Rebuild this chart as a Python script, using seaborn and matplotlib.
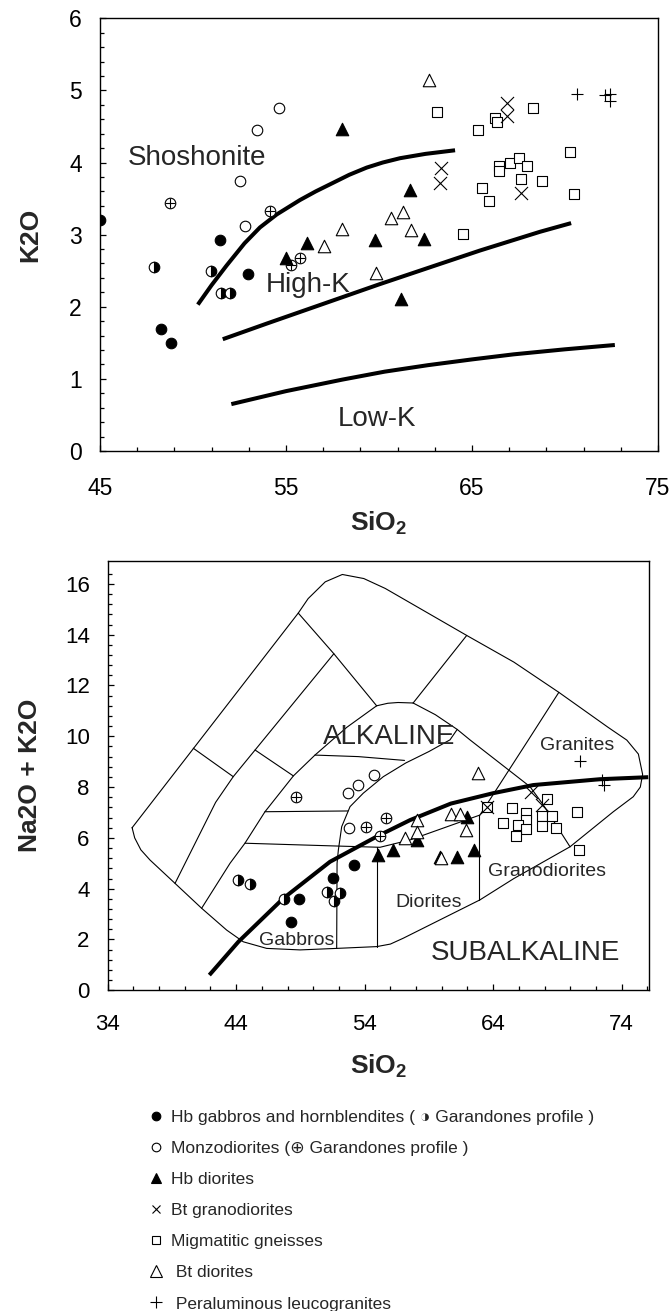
import numpy as np
import matplotlib
matplotlib.use("Agg")
import matplotlib.pyplot as plt
import seaborn as sns
from matplotlib.lines import Line2D
from matplotlib.ticker import FixedLocator, MultipleLocator

# ======================= DATA : K2O vs SiO2 (top) =======================
k_hbgab_si = [51.44, 52.98, 48.29, 48.82]
k_hbgab_k = [2.93, 2.455, 1.69, 1.50]
k_gargab_si = [45.0, 47.92, 50.95, 51.48, 52.01]
k_gargab_k = [3.21, 2.55, 2.49, 2.19, 2.19]
k_monzo_si = [54.63, 53.44, 52.54, 52.77]
k_monzo_k = [4.76, 4.45, 3.75, 3.12]
k_garmonzo_si = [48.79, 54.13, 55.25, 55.76]
k_garmonzo_k = [3.44, 3.33, 2.58, 2.68]
k_hbdio_si = [58.01, 56.13, 55.0, 59.78, 61.64, 62.40, 61.2]
k_hbdio_k = [4.46, 2.89, 2.68, 2.92, 3.62, 2.94, 2.11]
k_btgrano_si = [66.87, 66.90, 63.36, 63.30, 67.63]
k_btgrano_k = [4.82, 4.64, 3.92, 3.71, 3.58]
k_migm_si = [63.12, 65.34, 66.22, 66.34, 68.30, 66.44, 66.44, 67.07, 67.53,
             67.98, 67.66, 68.75, 65.55, 65.90, 70.25, 70.47, 64.50]
k_migm_k = [4.70, 4.45, 4.62, 4.56, 4.76, 3.95, 3.88, 4.00, 4.06,
            3.95, 3.77, 3.75, 3.65, 3.46, 4.14, 3.56, 3.01]
k_btdio_si = [62.71, 57.02, 57.99, 60.63, 61.30, 61.74, 59.85]
k_btdio_k = [5.14, 2.84, 3.08, 3.23, 3.32, 3.07, 2.47]
k_leuco_si = [70.63, 72.13, 72.40, 72.40]
k_leuco_k = [4.95, 4.93, 4.95, 4.85]

# series boundaries
sho_si = [50.26, 51.0, 51.8, 52.77, 53.6, 54.5, 55.75, 56.6, 57.54, 58.4,
          59.34, 60.2, 61.13, 62.5, 64.09]
sho_k = [2.03, 2.30, 2.57, 2.88, 3.10, 3.28, 3.48, 3.60, 3.72, 3.83,
         3.93, 4.00, 4.06, 4.12, 4.17]
hk_si = [51.6, 54.0, 57.0, 60.0, 63.0, 65.43, 68.66, 70.33]
hk_k = [1.55, 1.77, 2.04, 2.31, 2.57, 2.78, 3.04, 3.16]
lk_si = [52.06, 55.0, 58.03, 60.3, 62.63, 65.0, 67.23, 70.0, 72.68]
lk_k = [0.65, 0.83, 0.99, 1.10, 1.19, 1.27, 1.34, 1.41, 1.47]

top_labels = ["Shoshonite", "High-K", "Low-K"]
top_label_si = [50.2, 56.2, 59.87]
top_label_k = [4.11, 2.35, 0.48]

# ======================= DATA : TAS (bottom) =======================
t_hbgab_si = [53.17, 51.56, 48.89, 48.26]
t_hbgab_a = [4.93, 4.41, 3.58, 2.70]
t_gargab_si = [44.17, 45.07, 47.75, 51.09, 52.08, 51.61]
t_gargab_a = [4.34, 4.17, 3.58, 3.88, 3.82, 3.52]
t_monzo_si = [52.80, 52.68, 53.50, 54.75]
t_monzo_a = [6.40, 7.78, 8.08, 8.48]
t_garmonzo_si = [48.65, 54.13, 55.68, 55.19]
t_garmonzo_a = [7.62, 6.44, 6.80, 6.07]
t_hbdio_si = [55.06, 56.18, 58.05, 59.86, 61.21, 62.51, 61.94]
t_hbdio_a = [5.33, 5.52, 5.92, 5.26, 5.26, 5.52, 6.83]
t_btgrano_si = [66.92, 63.50, 67.77]
t_btgrano_a = [7.82, 7.23, 7.30]
t_migm_si = [63.50, 65.44, 66.55, 66.55, 68.16, 67.82, 68.60, 64.79, 65.95,
             66.55, 67.82, 68.89, 65.75, 70.50, 70.65]
t_migm_a = [7.23, 7.19, 6.99, 6.70, 7.52, 6.86, 6.86, 6.57, 6.51,
            6.34, 6.47, 6.40, 6.07, 7.03, 5.52]
t_btdio_si = [62.84, 58.09, 58.09, 57.14, 60.72, 61.42, 61.88, 59.94]
t_btdio_a = [8.54, 6.70, 6.24, 5.98, 6.94, 6.94, 6.31, 5.20]
t_leuco_si = [70.76, 72.44, 72.62]
t_leuco_a = [9.03, 8.28, 8.08]

# Irvine & Baragar alkaline / subalkaline divide
ib_si = [41.91, 44.17, 47.67, 51.30, 54.93, 57.53, 60.70, 64.0, 67.12, 72.31, 76.07]
ib_a = [0.60, 1.91, 3.62, 5.06, 6.05, 6.70, 7.35, 7.76, 8.08, 8.31, 8.39]

# TAS field boundaries (thin lines)
env_si = [35.9, 36.1, 36.58, 37.29, 39.24, 41.31, 43.26, 44.55, 46.37, 48.97, 51.82,
          54.93, 56.0, 57.0, 62.97, 65.61, 69.98, 73.35, 74.9, 75.45, 75.63, 75.3,
          74.4, 72.95, 69.11, 65.61, 61.94, 55.6, 53.93, 52.26, 50.93, 49.6, 48.83, 35.9]
env_a = [6.4, 6.0, 5.53, 5.13, 4.21, 3.23, 2.37, 1.91, 1.65, 1.59, 1.65,
         1.72, 1.82, 2.05, 3.56, 4.40, 5.65, 7.03, 7.62, 8.0, 8.5, 9.3,
         9.85, 10.35, 11.73, 12.92, 13.97, 15.82, 16.21, 16.37, 16.08, 15.42, 14.85, 6.4]
b1_si = [48.83, 51.6, 54.93]
b1_a = [14.85, 13.25, 11.2]
b2_si = [40.66, 43.77]
b2_a = [9.53, 8.41]
b3_si = [39.24, 42.4, 43.77, 45.47, 51.6]
b3_a = [4.21, 7.4, 8.41, 9.46, 13.25]
b4_si = [45.47, 48.45]
b4_a = [9.46, 8.44]
b5_si = [41.31, 43.52, 44.68, 46.24, 48.45, 50.13, 52.6, 54.93]
b5_a = [3.23, 5.0, 5.79, 7.03, 8.44, 9.26, 10.35, 11.2]
b6_si = [54.93, 55.8, 56.6, 57.77]
b6_a = [11.2, 11.3, 11.33, 11.31]
b7_si = [57.77, 61.94]
b7_a = [11.31, 13.97]
b8_si = [57.77, 59.5, 61.2, 62.19, 64.5, 66.86, 67.9, 69.98]
b8_a = [11.31, 10.85, 10.27, 9.86, 8.95, 8.02, 7.3, 5.65]
b9_si = [50.13, 53.5, 57.1]
b9_a = [9.26, 9.2, 9.05]
b10_si = [46.24, 52.7]
b10_a = [7.03, 7.06]
b11_si = [44.68, 51.82, 55.19, 57.53, 62.97]
b11_a = [5.79, 5.68, 5.63, 5.92, 6.90]
b12_si = [51.82, 51.85, 51.95, 52.21, 52.86, 53.89, 55.45, 57.2, 59.0, 60.64, 61.2]
b12_a = [1.65, 5.0, 5.52, 6.44, 7.23, 7.76, 8.41, 8.95, 9.4, 9.86, 10.27]
b13_si = [54.93, 54.93]
b13_a = [1.72, 5.63]
b14_si = [62.92, 62.92]
b14_a = [3.56, 6.90]
b15_si = [62.97, 66.73, 69.11]
b15_a = [6.90, 9.85, 11.73]
tas_bounds = [(b1_si, b1_a), (b2_si, b2_a), (b3_si, b3_a), (b4_si, b4_a),
              (b5_si, b5_a), (b6_si, b6_a), (b7_si, b7_a), (b8_si, b8_a),
              (b9_si, b9_a), (b10_si, b10_a), (b11_si, b11_a), (b12_si, b12_a),
              (b13_si, b13_a), (b14_si, b14_a), (b15_si, b15_a)]

tas_labels = ["ALKALINE", "Granites", "Granodiorites", "Diorites", "Gabbros", "SUBALKALINE"]
tas_label_si = [55.93, 70.5, 68.2, 59.0, 48.7, 66.5]
tas_label_a = [10.1, 9.7, 4.76, 3.55, 2.05, 1.6]
tas_label_size = [20, 14, 14, 14, 14, 20]

legend_labels = [
    "Hb gabbros and hornblendites ( \u25D1 Garandones profile )",
    "Monzodiorites (\u2295 Garandones profile )",
    "Hb diorites",
    "Bt granodiorites",
    "Migmatitic gneisses",
    " Bt diorites",
    " Peraluminous leucogranites",
]

# ======================= STYLE =======================
sns.set_theme(style="ticks")
plt.rcParams["font.family"] = ["Liberation Sans", "DejaVu Sans"]
plt.rcParams["mathtext.fontset"] = "custom"
plt.rcParams["mathtext.rm"] = "Liberation Sans"
plt.rcParams["mathtext.bf"] = "Liberation Sans:bold"

fig = plt.figure(figsize=(6.71, 13.11), dpi=100)
ax1 = fig.add_axes([0.14903, 0.65599, 0.83159, 0.33005])
ax2 = fig.add_axes([0.16051, 0.24462, 0.80715, 0.32784])

MS_O = 7.6
MS_TRI = 9.0
MS_SQ = 7.3
MS_X = 9.4
MS_P = 9.0


def pts(ax, x, y, marker, fc="black", size=MS_O, lw=0.8):
    if marker in ("x", "+"):
        sns.scatterplot(x=x, y=y, ax=ax, marker=marker, s=size ** 2,
                        color="black", linewidth=lw, zorder=5)
    else:
        sns.scatterplot(x=x, y=y, ax=ax, marker=marker, s=size ** 2,
                        facecolor=fc, edgecolor="black", linewidth=lw, zorder=5)


def half(ax, x, y):
    ax.plot(x, y, ls="none", marker="o", ms=MS_O, fillstyle="right",
            mfc="black", mfcalt="white", mec="black", mew=0.8, zorder=5)


def crossed(ax, x, y):
    pts(ax, x, y, "o", "white", size=MS_O)
    pts(ax, x, y, "+", size=MS_O)


def draw_all(ax, d):
    pts(ax, d[0][0], d[0][1], "o", "black", size=MS_O)
    half(ax, d[1][0], d[1][1])
    pts(ax, d[2][0], d[2][1], "o", "white", size=MS_O)
    crossed(ax, d[3][0], d[3][1])
    pts(ax, d[4][0], d[4][1], "^", "black", size=MS_TRI)
    pts(ax, d[6][0], d[6][1], "s", "white", size=MS_SQ)
    pts(ax, d[5][0], d[5][1], "x", size=MS_X)
    pts(ax, d[7][0], d[7][1], "^", "white", size=MS_TRI)
    pts(ax, d[8][0], d[8][1], "+", size=MS_P)


# ---------------- top panel ----------------
for xs, ys in [(sho_si, sho_k), (hk_si, hk_k), (lk_si, lk_k)]:
    ax1.plot(xs, ys, color="black", lw=2.9, solid_capstyle="butt",
             solid_joinstyle="round", zorder=2)

draw_all(ax1, [(k_hbgab_si, k_hbgab_k), (k_gargab_si, k_gargab_k),
               (k_monzo_si, k_monzo_k), (k_garmonzo_si, k_garmonzo_k),
               (k_hbdio_si, k_hbdio_k), (k_btgrano_si, k_btgrano_k),
               (k_migm_si, k_migm_k), (k_btdio_si, k_btdio_k),
               (k_leuco_si, k_leuco_k)])

for t, xs, ys in zip(top_labels, top_label_si, top_label_k):
    ax1.text(xs, ys, t, fontsize=20, ha="center", va="center_baseline", zorder=6)

ax1.set_xlim(45, 75)
ax1.set_ylim(0, 6)
ax1.xaxis.set_major_locator(FixedLocator([45, 55, 65, 75]))
ax1.xaxis.set_minor_locator(FixedLocator(np.arange(45, 76, 2)))
ax1.yaxis.set_major_locator(MultipleLocator(1))
ax1.yaxis.set_minor_locator(MultipleLocator(0.2))
ax1.tick_params(axis="x", labelsize=16.5, pad=18.5)
ax1.tick_params(axis="y", labelsize=16.5, pad=13)
ax1.set_xlabel(r"SiO$_\mathbf{2}$", fontsize=19, fontweight="bold", va="top")
ax1.xaxis.set_label_coords(0.5, -0.136)
ax1.set_ylabel("K2O", fontsize=19, fontweight="bold", va="center")
ax1.yaxis.set_label_coords(-0.125, 0.5)

# ---------------- bottom panel ----------------
ax2.plot(env_si, env_a, color="black", lw=0.8, zorder=1)
for xs, ys in tas_bounds:
    ax2.plot(xs, ys, color="black", lw=0.8, zorder=1)
ax2.plot(ib_si, ib_a, color="black", lw=2.9, solid_capstyle="butt",
         solid_joinstyle="round", zorder=2)

draw_all(ax2, [(t_hbgab_si, t_hbgab_a), (t_gargab_si, t_gargab_a),
               (t_monzo_si, t_monzo_a), (t_garmonzo_si, t_garmonzo_a),
               (t_hbdio_si, t_hbdio_a), (t_btgrano_si, t_btgrano_a),
               (t_migm_si, t_migm_a), (t_btdio_si, t_btdio_a),
               (t_leuco_si, t_leuco_a)])

for t, xs, ys, fs in zip(tas_labels, tas_label_si, tas_label_a, tas_label_size):
    ax2.text(xs, ys, t, fontsize=fs, ha="center", va="center_baseline", zorder=6)

ax2.set_xlim(34, 76.15)
ax2.set_ylim(0, 16.92)
ax2.xaxis.set_major_locator(FixedLocator([34, 44, 54, 64, 74]))
ax2.xaxis.set_minor_locator(MultipleLocator(2))
ax2.yaxis.set_major_locator(MultipleLocator(2))
ax2.yaxis.set_minor_locator(FixedLocator(np.arange(0, 16.5, 0.4)))
ax2.tick_params(axis="x", labelsize=16, pad=17)
ax2.tick_params(axis="y", labelsize=16, pad=13)
ax2.set_xlabel(r"SiO$_\mathbf{2}$", fontsize=19, fontweight="bold", va="top")
ax2.xaxis.set_label_coords(0.5, -0.144)
ax2.set_ylabel("Na2O + K2O", fontsize=19, fontweight="bold", va="center")
ax2.yaxis.set_label_coords(-0.1435, 0.5)

for ax in (ax1, ax2):
    ax.grid(False)
    for sp in ax.spines.values():
        sp.set_visible(True)
        sp.set_color("black")
        sp.set_linewidth(1.0)
    ax.tick_params(which="both", direction="in", top=False, right=False,
                   colors="black", width=0.9)
    ax.tick_params(which="major", length=4)
    ax.tick_params(which="minor", length=3.2)

# ---------------- legend ----------------
leg_handles = [
    Line2D([], [], ls="none", marker="o", ms=6.2, mfc="black", mec="black", mew=0.8),
    Line2D([], [], ls="none", marker="o", ms=6.2, mfc="white", mec="black", mew=0.8),
    Line2D([], [], ls="none", marker="^", ms=6.8, mfc="black", mec="black", mew=0.8),
    Line2D([], [], ls="none", marker="x", ms=6.4, mec="black", mew=0.8),
    Line2D([], [], ls="none", marker="s", ms=6.0, mfc="white", mec="black", mew=0.8),
    Line2D([], [], ls="none", marker="^", ms=8.4, mfc="white", mec="black", mew=0.8),
    Line2D([], [], ls="none", marker="+", ms=8.6, mec="black", mew=0.8),
]
fig.legend(leg_handles, legend_labels, loc="upper left",
           bbox_to_anchor=(0.2198, 0.1536), bbox_transform=fig.transFigure,
           frameon=False, borderpad=0, borderaxespad=0, handlelength=1.0,
           handletextpad=0.38, fontsize=12.5, labelspacing=0.92)

fig.savefig("out.png", dpi=100)
